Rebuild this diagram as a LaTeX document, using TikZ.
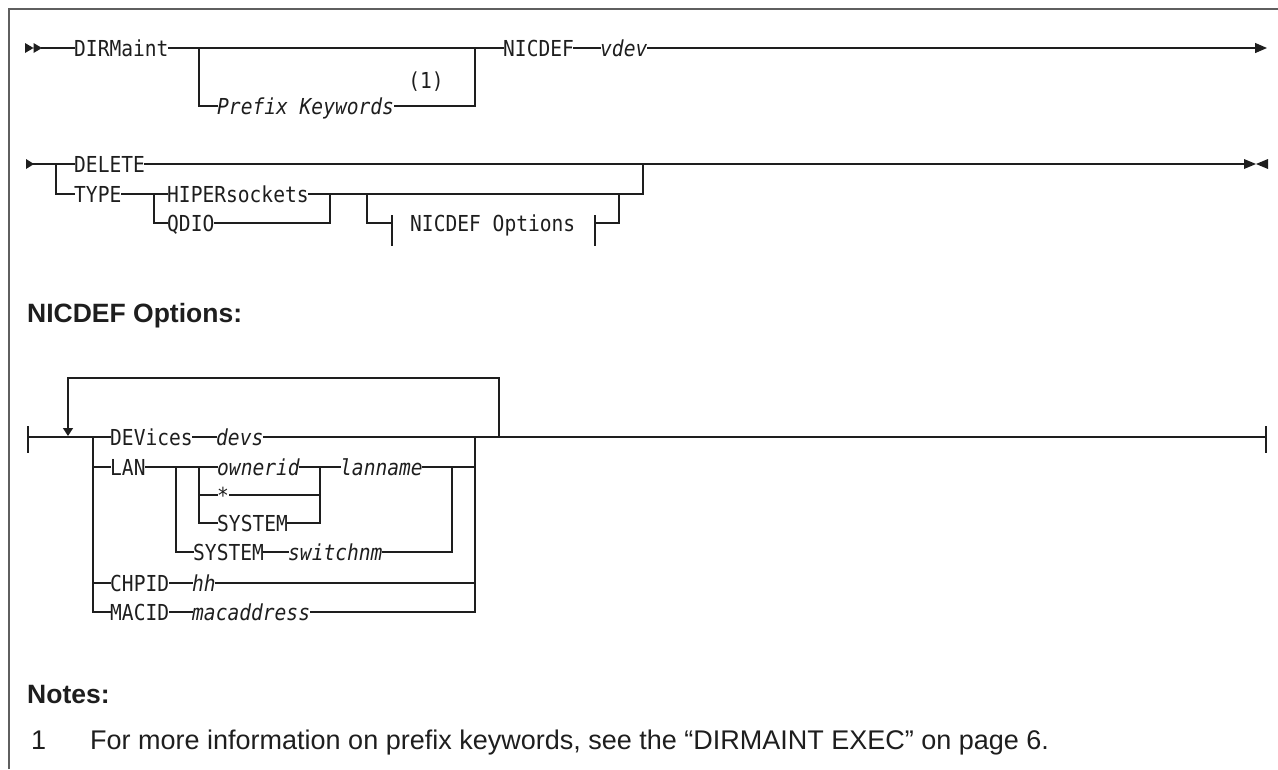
\documentclass[tikz,border=0pt]{standalone}
\usepackage{fontspec}
\setmainfont{Liberation Sans}
\newfontfamily\synfont{DejaVu Sans Mono}[FakeStretch=0.89]
\usetikzlibrary{arrows.meta}
\definecolor{rlink}{RGB}{30,30,30}
\definecolor{rframe}{RGB}{95,95,95}

\begin{document}
\begin{tikzpicture}[x=1pt, y=-1pt,
    kw/.style={font={\synfont\fontsize{22}{26}\selectfont}, text=rlink, inner sep=0pt, anchor=west, text height=16pt, text depth=0pt},
    var/.style={kw, font={\synfont\fontsize{22}{26}\selectfont\itshape}},
    rail/.style={draw=rlink, line width=1.3pt, line cap=rect},
    blob/.style={draw=rlink, line width=2.6pt},
    heading/.style={font={\fontsize{26.5}{30}\selectfont\bfseries}, text=rlink, anchor=base west, inner sep=0pt},
    note/.style={font={\fontsize{27}{30}\selectfont}, text=rlink, anchor=base west, inner sep=0pt}
  ]
  \useasboundingbox (0,0) rectangle (1278,769);
  \draw[draw=rframe, line width=2pt] (9,769) -- (9,9) -- (1278,9);

  \coordinate (r1s) at (42,48);
  \node[kw] (dirm) at (74,48) {DIRMaint};
  \node[var] (pfx) at (217,106) {Prefix Keywords};
  \node[kw, anchor=center] (fn1) at (426,80) {(1)};
  \node[kw] (nicdef) at (503,48) {NICDEF};
  \node[var] (vdev) at (600,48) {vdev};
  \coordinate (pfxl) at (199,48);
  \coordinate (pfxr) at (475,48);
  \coordinate (r1e) at (1267,48);
  \fill[rlink] (25,43) -- (33.5,48) -- (25,53) -- cycle
    (33.5,43) -- (42,48) -- (33.5,53) -- cycle;
  \draw[rail] (r1s) -- (dirm.west);
  \draw[rail] (dirm.east) -- (pfxr) -- (nicdef.west);
  \draw[rail] (pfxl) |- (pfx.west);
  \draw[rail] (pfx.east) -| (pfxr);
  \draw[rail] (nicdef.east) -- (vdev.west);
  \draw[rail, -{Triangle[length=12pt, width=10pt]}] (vdev.east) -- (r1e);

  \coordinate (r2s) at (34,164);
  \coordinate (r2l) at (56,164);
  \node[kw] (delete) at (74,164) {DELETE};
  \node[kw] (type) at (74,194) {TYPE};
  \coordinate (typl) at (154,194);
  \node[kw] (hiper) at (167,194) {HIPERsockets};
  \node[kw] (qdio) at (167,223) {QDIO};
  \coordinate (typr) at (330,194);
  \coordinate (optl) at (367,194);
  \coordinate (brl) at (392,223);
  \node[kw] (optref) at (410,223) {NICDEF Options};
  \coordinate (brr) at (595,223);
  \coordinate (optr) at (619,194);
  \coordinate (r2j) at (643,164);
  \coordinate (r2e) at (1244,164);
  \fill[rlink] (26,159) -- (34,164) -- (26,169) -- cycle;
  \draw[rail] (r2s) -- (delete.west);
  \draw[rail] (r2l) |- (type.west);
  \draw[rail] (delete.east) -- (r2e);
  \draw[rail] (type.east) -- (hiper.west);
  \draw[rail] (typl) |- (qdio.west);
  \draw[rail] (hiper.east) -| (r2j);
  \draw[rail] (qdio.east) -| (typr);
  \draw[rail] (optl) |- (brl);
  \draw[rail] ([yshift=7pt]brl) -- ([yshift=-22pt]brl);
  \draw[rail] ([yshift=7pt]brr) -- ([yshift=-22pt]brr);
  \draw[rail] (brr) -| (optr);
  \draw[blob] ([xshift=5pt]r2j) -- ([xshift=30pt]r2j);
  \fill[rlink] (1244,159) -- (1256,164) -- (1244,169) -- cycle
    (1268,159) -- (1256,164) -- (1268,169) -- cycle;

  \node[heading] (opthd) at (27,322) {NICDEF Options:};

  \coordinate (o1s) at (28,437);
  \coordinate (o1l) at (93,437);
  \node[kw] (devices) at (110,437) {DEVices};
  \node[var] (devs) at (216,437) {devs};
  \coordinate (o1r) at (475,437);
  \coordinate (lpr) at (499,437);
  \coordinate (lpl) at (68,378);
  \coordinate (lptip) at (68,436);
  \coordinate (o1e) at (1266,437);
  \node[kw] (lan) at (110,467) {LAN};
  \coordinate (lanl) at (176,467);
  \coordinate (ownl) at (199,467);
  \node[var] (owner) at (217,467) {ownerid};
  \node[kw] (star) at (217,495) {*};
  \node[kw] (sysa) at (217,523) {SYSTEM};
  \coordinate (ownr) at (320,467);
  \node[var] (lanname) at (340,467) {lanname};
  \coordinate (lanr) at (452,467);
  \node[kw] (sysb) at (193,552) {SYSTEM};
  \node[var] (switchnm) at (288,552) {switchnm};
  \node[kw] (chpid) at (110,583) {CHPID};
  \node[var] (hh) at (192,583) {hh};
  \node[kw] (macid) at (110,612) {MACID};
  \node[var] (macaddr) at (192,612) {macaddress};

  \draw[rail] ([yshift=10pt]o1s) -- ([yshift=-15pt]o1s);
  \draw[rail] (o1s) -- (devices.west);
  \draw[blob] ([xshift=10pt]o1s) -- ([xshift=15pt]o1s);
  \draw[rail, -{Triangle[length=8pt, width=10pt]}] (lpr) |- (lpl) -- (lptip);
  \draw[rail] (devices.east) -- (devs.west);
  \draw[rail] (devs.east) -- (o1e);
  \draw[blob] ([xshift=6pt]lpr) -- ([xshift=29pt]lpr);
  \draw[rail] ([yshift=10pt]o1e) -- ([yshift=-15pt]o1e);
  \draw[rail] (o1l) |- (macid.west);
  \draw[rail] (o1l |- lan) -- (lan.west);
  \draw[rail] (o1l |- chpid) -- (chpid.west);
  \draw[rail] (lan.east) -- (owner.west);
  \draw[rail] (ownl) |- (sysa.west);
  \draw[rail] (ownl |- star) -- (star.west);
  \draw[rail] (owner.east) -- (lanname.west);
  \draw[rail] (star.east) -| (ownr);
  \draw[rail] (sysa.east) -| (ownr);
  \draw[rail] (lanname.east) -- (o1r |- lanname);
  \draw[rail] (lanl) |- (sysb.west);
  \draw[rail] (sysb.east) -- (switchnm.west);
  \draw[rail] (switchnm.east) -| (lanr);
  \draw[rail] (chpid.east) -- (hh.west);
  \draw[rail] (hh.east) -- (o1r |- hh);
  \draw[rail] (macid.east) -- (macaddr.west);
  \draw[rail] (macaddr.east) -| (o1r);

  \node[heading] (noteshd) at (27,703) {Notes:};
  \node[note] (n1num) at (31,749) {1};
  \node[note] (n1) at (90,749) {For more information on prefix keywords, see the “DIRMAINT EXEC” on page 6.};
\end{tikzpicture}
\end{document}
